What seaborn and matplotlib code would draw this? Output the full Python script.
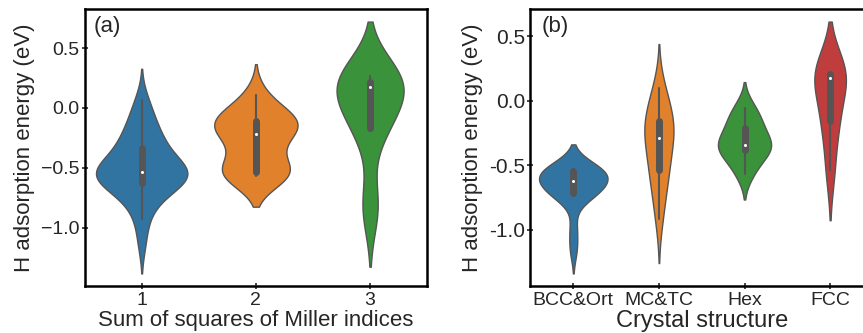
import pandas as pd
import seaborn as sns
import matplotlib.pyplot as plt
from matplotlib.ticker import FuncFormatter
from matplotlib.collections import PolyCollection

# H adsorption energies (eV), grouped by sum of squares of Miller indices
miller_labels = ['1', '2', '3']
miller_1 = [-1.12, -0.93, -0.84, -0.76, -0.70, -0.67, -0.65, -0.63, -0.61, -0.59,
            -0.57, -0.56, -0.55, -0.54, -0.54, -0.53, -0.52, -0.50, -0.48, -0.45,
            -0.40, -0.36, -0.33, -0.30, -0.26, -0.22, -0.17, -0.10, -0.03, 0.065]
miller_2 = [-0.566, -0.56, -0.555, -0.545, -0.535, -0.44, -0.33, -0.25, -0.19, -0.17,
            -0.15, -0.12, -0.09, -0.07, -0.02, 0.107]
miller_3 = [-0.87, -0.77, -0.19, -0.17, -0.08, 0.02, 0.176, 0.185, 0.20, 0.218,
            0.235, 0.25, 0.265]

# H adsorption energies (eV), grouped by crystal structure
crystal_labels = ['BCC&Ort', 'MC&TC', 'Hex', 'FCC']
bcc_ort = [-1.15, -0.99, -0.74, -0.73, -0.72, -0.71, -0.68, -0.65, -0.63, -0.61,
           -0.60, -0.58, -0.56, -0.54, -0.535, -0.53, -0.53, -0.525]
mc_tc = [-0.918, -0.76, -0.64, -0.55, -0.52, -0.42, -0.34, -0.285, -0.25, -0.20,
         -0.17, -0.14, -0.06, 0.02, 0.10]
hexa = [-0.567, -0.47, -0.385, -0.365, -0.35, -0.332, -0.24, -0.20, -0.12, -0.054]
fcc = [-0.533, -0.20, -0.11, 0.177, 0.20, 0.215, 0.22]

df1 = pd.DataFrame({
    'miller': sum([[lab] * len(v) for lab, v in zip(miller_labels, [miller_1, miller_2, miller_3])], []),
    'energy': miller_1 + miller_2 + miller_3,
})
df2 = pd.DataFrame({
    'crystal': sum([[lab] * len(v) for lab, v in zip(crystal_labels, [bcc_ort, mc_tc, hexa, fcc])], []),
    'energy': bcc_ort + mc_tc + hexa + fcc,
})

sns.set_style('ticks')
plt.rcParams['font.family'] = ['Liberation Sans', 'DejaVu Sans']

fig = plt.figure(figsize=(8.63, 3.33), dpi=100)
ax1 = fig.add_axes([0.098, 0.141, 0.397, 0.832])
ax2 = fig.add_axes([0.6147, 0.141, 0.3968, 0.832])

pal = sns.color_palette('tab10')
inner_style = dict(box_width=5, whis_width=1.5, marker='o')


def restyle(ax, colors):
    # one violin body per category; give each its own (desaturated) colour
    polys = [c for c in ax.collections if isinstance(c, PolyCollection)]
    for poly, col in zip(polys, colors):
        poly.set_facecolor(sns.desaturate(col, 0.75))
    # small white median dots
    for ln in ax.lines:
        if ln.get_marker() == 'o':
            ln.set_markersize(2.2)
            ln.set_markeredgewidth(0)


# no hue here so that all violins share one area normalisation
sns.violinplot(data=df1, x='miller', y='energy', order=miller_labels,
               inner='box', inner_kws=inner_style, linewidth=1,
               linecolor='#555555', ax=ax1)
restyle(ax1, pal[:3])
sns.violinplot(data=df2, x='crystal', y='energy', order=crystal_labels,
               inner='box', inner_kws=inner_style, linewidth=1,
               linecolor='#555555', ax=ax2)
restyle(ax2, pal[:4])

# panel (a)
ax1.set_xlabel('Sum of squares of Miller indices', fontsize=16, labelpad=1)
ax1.set_ylabel('H adsorption energy (eV)', fontsize=16)
ax1.set_yticks([-1.0, -0.5, 0.0, 0.5])
ax1.tick_params(direction='inout', length=4, width=1.2, labelsize=14, pad=2)
ax1.text(0.025, 0.975, '(a)', transform=ax1.transAxes, fontsize=16, va='top')

# panel (b)
ax2.set_xlabel('Crystal structure', fontsize=17, labelpad=1)
ax2.set_ylabel('H adsorption energy (eV)', fontsize=16)
ax2.tick_params(direction='inout', length=4, width=1.2, labelsize=14, pad=2)
ax2.tick_params(axis='y', labelsize=15)
ax2.yaxis.set_major_formatter(FuncFormatter(lambda v, p: f'{v:.1f}'))
ax2.text(0.033, 0.975, '(b)', transform=ax2.transAxes, fontsize=16, va='top')

for ax in (ax1, ax2):
    for s in ax.spines.values():
        s.set_visible(True)
        s.set_linewidth(1.8)
        s.set_color('black')

plt.savefig('out.png', dpi=100)
